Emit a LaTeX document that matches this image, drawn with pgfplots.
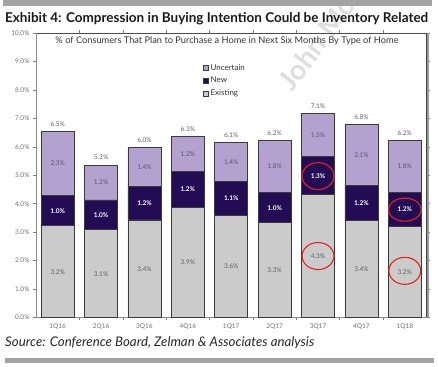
\documentclass[border=0pt]{standalone}
\usepackage{pgfplots}
\pgfplotsset{compat=1.18}
\usepackage{pgfplotstable}
\usepackage{fontspec}
\setmainfont{Lato}
\usepackage{graphicx}

\definecolor{cU}{HTML}{B3A1CF}
\definecolor{cN}{HTML}{240C55}
\definecolor{cE}{HTML}{CBCBCB}
\definecolor{edge}{HTML}{3A3A3A}
\definecolor{tickgray}{HTML}{707070}
\definecolor{barsgray}{HTML}{A3A3A3}
\definecolor{circ}{HTML}{E3231E}
\definecolor{ulab}{HTML}{5E5470}
\definecolor{elab}{HTML}{606060}

% x E N U (bar heights) ; eL nL uL tL (printed labels)
\pgfplotstableread{
x E N U eL nL uL tL
0 3.22 1.06 2.27 3.2 1.0 2.3 6.5
1 3.08 1.05 1.23 3.1 1.0 1.2 5.3
2 3.43 1.19 1.36 3.4 1.2 1.4 6.0
3 3.88 1.24 1.24 3.9 1.2 1.2 6.3
4 3.60 1.17 1.39 3.6 1.1 1.4 6.1
5 3.33 1.06 1.84 3.3 1.0 1.8 6.2
6 4.31 1.34 1.53 4.3 1.3 1.5 7.1
7 3.40 1.25 2.14 3.4 1.2 2.1 6.8
8 3.19 1.21 1.81 3.2 1.2 1.8 6.2
}\data

\pgfplotsset{
  base/.style={
    scale only axis, width=390.5pt, height=284.5pt,
    at={(36pt,48.5pt)}, anchor=south west,
    xmin=-0.5, xmax=8.5, ymin=0, ymax=10,
    clip=false,
  },
  sq legend/.style={legend image code/.code={\draw[##1,line width=0.6pt,draw=edge] (0pt,-2.4pt) rectangle (4.8pt,2.4pt);}},
  lab/.style={draw=none, nodes near coords={\pgfplotspointmeta\%}, point meta=explicit symbolic},
}

\begin{document}
\begin{tikzpicture}[x=1pt,y=1pt]
\useasboundingbox (0,0) rectangle (438,366);
% watermark
\node[rotate=53, text=black!13, font=\bfseries\fontsize{28}{28}\selectfont] at (316,322) {John Mc};
% decorative bars
\fill[barsgray] (3,359.5) rectangle (432,366);
\fill[barsgray] (5,3) rectangle (434,8);
% title
\node[anchor=west, inner sep=0pt, text=black!90] at (5,347) {\resizebox{423pt}{!}{\bfseries\fontsize{14}{16}\selectfont Exhibit 4: Compression in Buying Intention Could be Inventory Related}};
% source
\node[anchor=west, inner sep=0pt, text=black!85] at (5,23) {\resizebox{309pt}{!}{\itshape\fontsize{13}{15}\selectfont Source: Conference Board, Zelman \& Associates analysis}};
% subtitle
\node[inner sep=0pt, text=black!80] at (227,325.5) {\resizebox{343pt}{!}{\fontsize{7.5}{9}\selectfont \% of Consumers That Plan to Purchase a Home in Next Six Months By Type of Home}};

\begin{axis}[base,
  ybar stacked, bar width=33pt,
  axis line style={draw=none},
  tick align=outside,
  ytick={0,1,...,10},
  yticklabel={\pgfmathprintnumber[fixed,fixed zerofill,precision=1]{\tick}\%},
  xtick={0,...,8},
  xticklabels={1Q16,2Q16,3Q16,4Q16,1Q17,2Q17,3Q17,4Q17,1Q18},
  minor xtick={0.5,1.5,...,7.5},
  major x tick style={draw=none},
  tick style={draw=gray, line width=0.5pt},
  major tick length=3pt, minor tick length=3pt,
  tick label style={font=\fontsize{6.5}{7}\selectfont, text=tickgray},
  /pgf/number format/assume math mode=true,
  legend style={at={(0.42,0.905)}, anchor=north west, draw=none, fill=none,
    font=\fontsize{8}{9}\selectfont, row sep=1.5pt, text=black!80},
  legend cell align=left,
  reverse legend,
]
\addplot[fill=cE, draw=edge, line width=0.8pt, sq legend] table[x=x,y=E]{\data};
\addplot[fill=cN, draw=edge, line width=0.8pt, sq legend] table[x=x,y=N]{\data};
\addplot[fill=cU, draw=edge, line width=0.8pt, sq legend] table[x=x,y=U]{\data};
\legend{Existing,New,Uncertain}
\draw[color=black!45, line width=0.9pt] (rel axis cs:0,0) -- (rel axis cs:0,1);
\draw[color=black!45, line width=0.9pt] (rel axis cs:0,0) -- (rel axis cs:1,0);
\draw[color=black!70, line width=0.9pt] (rel axis cs:0,1) -- (rel axis cs:1,1);
\draw[color=black!40, line width=2pt] ([xshift=1.4pt]rel axis cs:1,1) -- ([xshift=1.4pt]rel axis cs:1,0);
\draw[color=black!75, line width=0.8pt] (rel axis cs:1,1) -- (rel axis cs:1,0);
\end{axis}

\begin{axis}[base, hide axis]
\addplot[lab, every node near coord/.style={anchor=center, font=\fontsize{6.5}{7}\selectfont, text=elab}]
  table[x=x, y expr=\thisrow{E}/2, meta=eL]{\data};
\addplot[lab, every node near coord/.style={anchor=center, font=\bfseries\fontsize{6.5}{7}\selectfont, text=white}]
  table[x=x, y expr=\thisrow{E}+\thisrow{N}/2, meta=nL]{\data};
\addplot[lab, every node near coord/.style={anchor=center, font=\fontsize{6.5}{7}\selectfont, text=ulab}]
  table[x=x, y expr=\thisrow{E}+\thisrow{N}+\thisrow{U}/2, meta=uL]{\data};
\addplot[lab, every node near coord/.style={anchor=south, yshift=1.5pt, font=\fontsize{6.5}{7}\selectfont, text=elab}]
  table[x=x, y expr=\thisrow{E}+\thisrow{N}+\thisrow{U}, meta=tL]{\data};
\addplot[only marks, mark=o, mark size=13.5pt, mark options={xscale=1.18, draw=circ, line width=1.1pt}]
  coordinates {(6,4.97) (6,2.16) (8,1.64)};
\addplot[only marks, mark=o, mark size=11.5pt, mark options={xscale=1.43, draw=circ, line width=1.1pt}]
  coordinates {(8,3.79)};
\end{axis}
\end{tikzpicture}
\end{document}
